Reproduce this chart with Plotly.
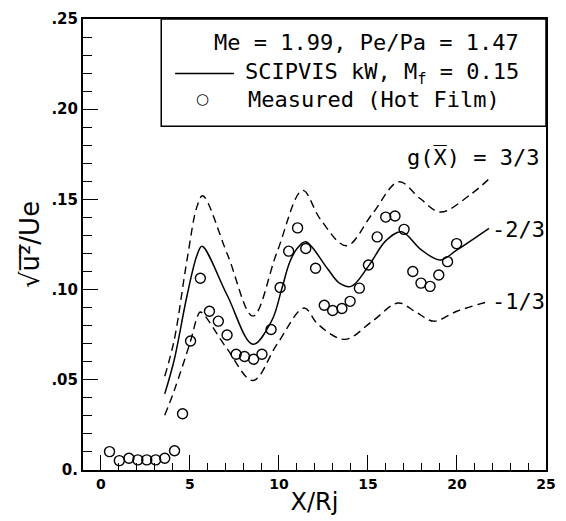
import plotly.graph_objects as go

# Measured (hot film) data
x_meas = [0.49, 1.04, 1.58, 2.08, 2.58, 3.08, 3.59, 4.14, 4.59, 5.04, 5.59, 6.1, 6.6, 7.09, 7.6, 8.07,
          8.58, 9.05, 9.56, 10.07, 10.55, 11.05, 11.51, 12.06, 12.55, 13.02, 13.54, 14.0, 14.52, 15.03,
          15.52, 16.0, 16.52, 17.03, 17.52, 17.98, 18.49, 18.98, 19.47, 19.98]
y_meas = [0.0102, 0.0052, 0.0065, 0.0056, 0.0056, 0.0056, 0.0065, 0.0107, 0.0312, 0.0715, 0.1063, 0.088,
          0.0825, 0.0748, 0.0642, 0.0629, 0.0614, 0.0642, 0.0779, 0.1012, 0.1213, 0.1342, 0.1228, 0.1118,
          0.0913, 0.0884, 0.0895, 0.0935, 0.1008, 0.1136, 0.1292, 0.1402, 0.1408, 0.1334, 0.11, 0.1036,
          0.1018, 0.1081, 0.1155, 0.1255]

# SCIPVIS curves, g(X) = 3/3, 2/3, 1/3
x_33 = [3.59, 4.12, 4.85, 5.4, 5.72, 7.13, 8.54, 9.89, 11.33, 12.33, 13.79, 15.25, 16.74, 17.93, 19.07, 20.8, 21.98]
y_33 = [0.052, 0.072, 0.117, 0.146, 0.152, 0.119, 0.0853, 0.1206, 0.155, 0.139, 0.1243, 0.142, 0.1598, 0.1505, 0.143, 0.153, 0.163]

x_23 = [3.59, 4.12, 4.85, 5.4, 5.68, 7.09, 8.54, 9.6, 10.15, 10.6, 11.0, 11.5, 12.7, 13.4, 14.06, 15.03, 16.0, 16.88, 18.0, 19.07, 20.0, 21.8]
y_23 = [0.0422, 0.061, 0.097, 0.119, 0.124, 0.097, 0.0697, 0.0828, 0.100, 0.115, 0.1225, 0.1265, 0.112, 0.1036, 0.1018, 0.113, 0.127, 0.132, 0.122, 0.1164, 0.122, 0.134]

x_13 = [3.59, 4.12, 5.04, 5.4, 5.59, 7.04, 8.54, 9.89, 11.42, 12.2, 13.7, 15.25, 16.7, 17.7, 18.7, 20.0, 21.8]
y_13 = [0.0303, 0.044, 0.0715, 0.0843, 0.0876, 0.0679, 0.0496, 0.0696, 0.0898, 0.0807, 0.0724, 0.0825, 0.0926, 0.0875, 0.0825, 0.088, 0.0935]

curve_labels = ["g(X\u0305) = 3/3", "2/3", "1/3"]

# y tick labels in the original's style (".05" etc.)
y_label_alias = {"0.00": "0.", "0.05": ".05", "0.10": ".10", "0.15": ".15", "0.20": ".20", "0.25": ".25"}

legend_title = "Me\u00a0=\u00a01.99,\u00a0Pe/Pa\u00a0=\u00a01.47"
legend_line = "SCIPVIS kW, M<sub>f</sub> = 0.15"
legend_meas = "Measured (Hot Film)"
y_title = "\u221au\u0305\u00b2\u0305/Ue"

MONO = "DejaVu Sans Mono"
SANS = "DejaVu Sans"

fig = go.Figure()
dash = "8px,5px"
fig.add_trace(go.Scatter(x=x_33, y=y_33, mode="lines", line=dict(color="black", width=1.4, dash=dash, shape="spline"), showlegend=False))
fig.add_trace(go.Scatter(x=x_23, y=y_23, mode="lines", line=dict(color="black", width=1.5, shape="spline"), showlegend=False))
fig.add_trace(go.Scatter(x=x_13, y=y_13, mode="lines", line=dict(color="black", width=1.4, dash=dash, shape="spline"), showlegend=False))
fig.add_trace(go.Scatter(x=x_meas, y=y_meas, mode="markers",
                         marker=dict(symbol="circle-open", size=10, color="black", line=dict(width=1.4)),
                         showlegend=False))

# curve labels
fig.add_annotation(x=24.7, y=0.173, text=curve_labels[0], showarrow=False, xanchor="right", yanchor="middle",
                   font=dict(family=MONO, size=22, color="black"))
fig.add_annotation(x=21.85, y=0.1335, text="-" + curve_labels[1], showarrow=False, xanchor="left", yanchor="middle",
                   font=dict(family=MONO, size=22, color="black"))
fig.add_annotation(x=21.85, y=0.0935, text="-" + curve_labels[2], showarrow=False, xanchor="left", yanchor="middle",
                   font=dict(family=MONO, size=22, color="black"))

# legend box
fig.add_shape(type="rect", xref="paper", yref="paper", x0=0.169, x1=1.0, y0=0.762, y1=1.0,
              line=dict(color="black", width=1.5))
fig.add_annotation(xref="paper", yref="paper", x=0.947, y=0.949, text=legend_title, showarrow=False,
                   xanchor="right", yanchor="middle", font=dict(family=MONO, size=22, color="black"))
fig.add_shape(type="line", xref="paper", yref="paper", x0=0.199, x1=0.326, y0=0.879, y1=0.879,
              line=dict(color="black", width=1.5))
fig.add_annotation(xref="paper", yref="paper", x=0.345, y=0.879, text=legend_line, showarrow=False,
                   xanchor="left", yanchor="middle", font=dict(family=MONO, size=22, color="black"))
fig.add_annotation(xref="paper", yref="paper", x=0.258, y=0.822, text="\u25cb", showarrow=False,
                   xanchor="center", yanchor="middle", font=dict(family=SANS, size=15, color="black"))
fig.add_annotation(xref="paper", yref="paper", x=0.352, y=0.822, text=legend_meas, showarrow=False,
                   xanchor="left", yanchor="middle", font=dict(family=MONO, size=22, color="black"))

fig.update_layout(
    width=566, height=521,
    margin=dict(l=83, r=10, t=19, b=48),
    plot_bgcolor="white",
    showlegend=False,
)
fig.update_xaxes(
    range=[-1, 25], gridcolor="white", zerolinecolor="white",
    showline=True, mirror=True, linecolor="black", linewidth=2,
    dtick=5, tick0=0,
    ticks="inside", ticklen=15, tickcolor="black",
    tickfont=dict(family=SANS, size=14, color="black", weight="bold"),
    minor=dict(ticks="inside", ticklen=7, dtick=1, tickcolor="black"),
    title=dict(text="X/Rj", font=dict(family=SANS, size=24, color="black"), standoff=2),
)
fig.update_yaxes(
    range=[0, 0.25], gridcolor="white", zerolinecolor="white",
    showline=True, mirror=True, linecolor="black", linewidth=2,
    dtick=0.05, tick0=0, tickformat=".2f", labelalias=y_label_alias,
    ticks="inside", ticklen=15, tickcolor="black",
    tickfont=dict(family=SANS, size=15, color="black", weight="bold"),
    minor=dict(ticks="inside", ticklen=9, dtick=0.01, tickcolor="black"),
    title=dict(text=y_title, font=dict(family=SANS, size=26, color="black"), standoff=4),
)

fig.write_html("out.html")
